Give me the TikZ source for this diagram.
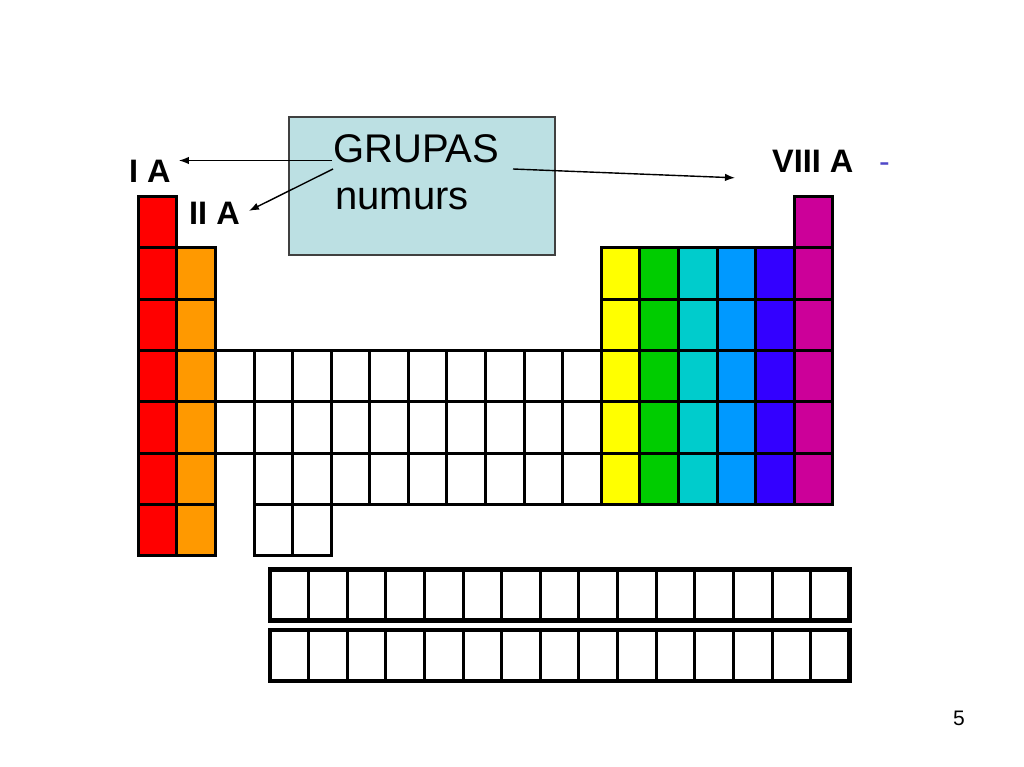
\documentclass[tikz,border=0pt]{standalone}
\usepackage{fontspec}
\setmainfont{Liberation Sans}
\usetikzlibrary{arrows.meta}

\definecolor{elred}{HTML}{FF0000}
\definecolor{elorange}{HTML}{FF9900}
\definecolor{elyellow}{HTML}{FFFF00}
\definecolor{elgreen}{HTML}{00CC00}
\definecolor{elcyan}{HTML}{00CCCC}
\definecolor{elblue}{HTML}{0099FF}
\definecolor{elindigo}{HTML}{3300FF}
\definecolor{elmagenta}{HTML}{CC0099}
\definecolor{boxblue}{HTML}{BCE0E3}
\definecolor{boxgray}{HTML}{404040}
\definecolor{dashblue}{HTML}{5048C8}

% one cell of the main table: column, row, fill
\newcommand{\pcell}[3]{\draw[cell, fill=#3] ({138.3+(#1-1)*38.58},{196.6+(#2-1)*51.34}) rectangle ++(38.58,51.34);}

\begin{document}
\begin{tikzpicture}[
    x=1pt,
    y=-1pt,
    cell/.style={
        draw=black,
        line width=3pt,
        line join=miter
    },
    infobox/.style={
        rectangle,
        draw=boxgray,
        fill=boxblue,
        line width=1.5pt,
        minimum width=266pt,
        minimum height=138pt,
        inner sep=0pt
    },
    big/.style={anchor=base west, inner sep=0pt, font=\fontsize{40}{47}\selectfont},
    group/.style={anchor=base west, inner sep=0pt, font=\fontsize{32.5}{38}\selectfont\bfseries},
    arrow/.style={-{Latex[length=10pt,width=7.5pt]}, line width=1.4pt}
]

\useasboundingbox[fill=white] (0,0) rectangle (1024,767);

% Main table
\foreach \r in {1,...,7} {\pcell{1}{\r}{elred}}
\foreach \r in {2,...,7} {\pcell{2}{\r}{elorange}}
\foreach \c in {3,...,12} {\pcell{\c}{4}{white} \pcell{\c}{5}{white}}
\foreach \c in {4,...,12} {\pcell{\c}{6}{white}}
\foreach \c in {4,5} {\pcell{\c}{7}{white}}
\foreach \c/\col in {13/elyellow, 14/elgreen, 15/elcyan, 16/elblue, 17/elindigo, 18/elmagenta}
    \foreach \r in {2,...,6} {\pcell{\c}{\r}{\col}}
\pcell{18}{1}{elmagenta}

% Lanthanide and actinide rows
\foreach \y in {569.3, 630} {
    \foreach \c in {0,...,14}
        \draw[cell] ({270+\c*38.62},\y) rectangle ++(38.62,51.2);
    \draw[line width=4.5pt] (270,\y) rectangle ++(579.3,51.2);
}

% Info box
\node[infobox] (box) at (422,186) {};
\node[big] (grp) at (333,163) {GRUPAS};
\node[big] (num) at (335,210) {numurs};

% Group labels
\node[group] (IA) at (129,182.5) {I A};
\node[group] (IIA) at (189,225) {II A};
\node[group] (VIIIA) at (772,173) {VIII A};
\node[anchor=base west, inner sep=0pt, font=\fontsize{32}{38}\selectfont, text=dashblue] (dash) at (879,173) {-};

% Arrows
\coordinate (t1) at (332,160.5);
\coordinate (t2) at (333,169);
\coordinate (t3) at (513,169);
\draw[arrow] (t1) -- ([xshift=8pt]IA.east |- t1);
\draw[arrow] (t2) -- ([xshift=9pt, yshift=3pt]IIA.east);
\draw[arrow] (t3) -- ([xshift=-37pt, yshift=-16pt]VIIIA.west);

% Slide number
\node[anchor=base west, inner sep=0pt, font=\fontsize{21}{25}\selectfont] (page) at (953,725) {5};

\end{tikzpicture}
\end{document}
